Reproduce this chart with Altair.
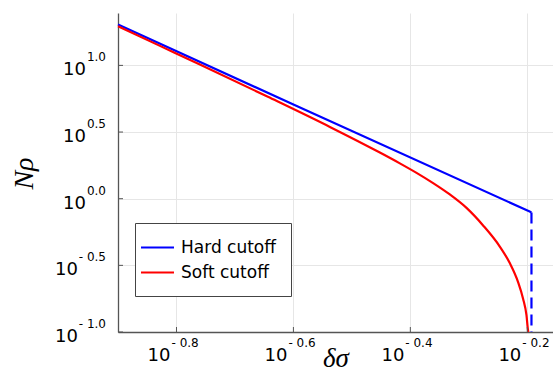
import altair as alt
import pandas as pd

# ---- data (delta sigma, N rho) ----
hard_ds = [0.12589, 0.25119, 0.64147]
hard_n = [20.23, 5.092, 0.7893]
hard_drop_ds = [0.64147, 0.64147]
hard_drop_n = [0.7893, 0.1]
soft_ds = [0.12589, 0.1479, 0.1738, 0.2272, 0.2900, 0.35307, 0.38199, 0.40794,
           0.43549, 0.46508, 0.49667, 0.53020, 0.56623, 0.58896, 0.60851,
           0.62061, 0.62897, 0.63295, 0.63370]
soft_n = [19.66, 14.13, 10.157, 5.811, 3.4538, 2.2187, 1.8408, 1.5620,
          1.3084, 1.0753, 0.85296, 0.63030, 0.43767, 0.32877, 0.23693,
          0.17783, 0.13370, 0.10263, 0.1]

series_names = ["Hard cutoff", "Soft cutoff"]
series_colors = ["#0000ff", "#ff0000"]

x_ticks = [0.1585, 0.2512, 0.3981, 0.6310]
x_exp = ["- 0.8", "- 0.6", "- 0.4", "- 0.2"]
y_pos_ticks = [1.0, 3.1623, 10.0]
y_pos_exp = ["0.0", "0.5", "1.0"]
y_neg_ticks = [0.1, 0.31623]
y_neg_exp = ["- 1.0", "- 0.5"]

W, H = 435, 319

lines_df = pd.DataFrame({
    "ds": hard_ds + soft_ds,
    "n": hard_n + soft_n,
    "series": [series_names[0]] * len(hard_ds) + [series_names[1]] * len(soft_ds),
})
drop_df = pd.DataFrame({"ds": hard_drop_ds, "n": hard_drop_n})
xt_df = pd.DataFrame({"ds": x_ticks, "t": x_exp})
ytp_df = pd.DataFrame({"n": y_pos_ticks, "t": y_pos_exp})
ytn_df = pd.DataFrame({"n": y_neg_ticks, "t": y_neg_exp})
yt_all = pd.DataFrame({"n": y_neg_ticks + y_pos_ticks})

xs = alt.Scale(type="log", domain=[10 ** -0.9, 10 ** -0.156], nice=False)
ys = alt.Scale(type="log", domain=[0.1, 10 ** 1.393], nice=False)

x_axis = alt.Axis(values=x_ticks, labels=False, ticks=False, grid=True,
                  gridColor="#e6e6e6", gridWidth=1, domainColor="#555555",
                  domainWidth=1.3, title="δσ", titleFont="Liberation Serif",
                  titleFontStyle="italic", titleFontWeight="normal",
                  titleFontSize=27, titleColor="black", titleX=W / 2,
                  titleY=34, titleAlign="center", titleBaseline="alphabetic")
y_axis = alt.Axis(values=y_neg_ticks + y_pos_ticks, labels=False, ticks=False,
                  grid=True, gridColor="#e6e6e6", gridWidth=1,
                  domainColor="#555555", domainWidth=1.3, title="Nρ",
                  titleFont="Liberation Serif", titleFontStyle="italic",
                  titleFontWeight="normal", titleFontSize=28,
                  titleColor="black", titleAngle=-90, titleX=-86, titleY=160,
                  titleAlign="center", titleBaseline="alphabetic")


def X(field="ds"):
    return alt.X(f"{field}:Q", scale=xs, axis=x_axis)


def Y(field="n"):
    return alt.Y(f"{field}:Q", scale=ys, axis=y_axis)


lines = alt.Chart(lines_df).mark_line(strokeWidth=2.2, interpolate="monotone").encode(
    x=X(), y=Y(),
    color=alt.Color("series:N",
                    scale=alt.Scale(domain=series_names, range=series_colors),
                    legend=alt.Legend(title=None, orient="none", legendX=17,
                                      legendY=210, padding=15,
                                      fillColor="white", strokeColor="#444444",
                                      symbolType="M-2,0H2", symbolSize=272,
                                      symbolStrokeWidth=2.2, symbolOffset=-2,
                                      labelOffset=14, labelFont="DejaVu Sans",
                                      labelFontSize=17, labelColor="black",
                                      rowPadding=7, cornerRadius=0)),
)

drop = alt.Chart(drop_df).mark_line(strokeWidth=2.2, strokeDash=[11, 6],
                                    color=series_colors[0]).encode(x=X(), y=Y())

xtick_marks = alt.Chart(xt_df).mark_rule(color="#555555", strokeWidth=1).encode(
    x=X(), y=alt.value(H), y2=alt.value(H - 5))
ytick_marks = alt.Chart(yt_all).mark_rule(color="#555555", strokeWidth=1).encode(
    y=Y(), x=alt.value(0), x2=alt.value(5))

lab_font = "DejaVu Sans"
x_base = alt.Chart(xt_df).mark_text(text="10", align="right", baseline="alphabetic",
                                    dx=-6, font=lab_font, fontSize=18,
                                    color="black").encode(x=X(), y=alt.value(H + 29))
x_sup = alt.Chart(xt_df).mark_text(align="left", baseline="alphabetic", dx=-5,
                                   font=lab_font, fontSize=12,
                                   color="black").encode(x=X(), y=alt.value(H + 15),
                                                         text="t:N")
yp_base = alt.Chart(ytp_df).mark_text(text="10", align="right", baseline="alphabetic",
                                      dy=10, font=lab_font, fontSize=18,
                                      color="black").encode(y=Y(), x=alt.value(-32))
yn_base = alt.Chart(ytn_df).mark_text(text="10", align="right", baseline="alphabetic",
                                      dy=10, font=lab_font, fontSize=18,
                                      color="black").encode(y=Y(), x=alt.value(-40))
yp_sup = alt.Chart(ytp_df).mark_text(align="right", baseline="alphabetic", dy=-4,
                                     font=lab_font, fontSize=12,
                                     color="black").encode(y=Y(), x=alt.value(-12),
                                                           text="t:N")
yn_sup = alt.Chart(ytn_df).mark_text(align="right", baseline="alphabetic", dy=-4,
                                     font=lab_font, fontSize=12,
                                     color="black").encode(y=Y(), x=alt.value(-12),
                                                           text="t:N")

chart = alt.layer(
    lines, drop, xtick_marks, ytick_marks,
    x_base, x_sup, yp_base, yn_base, yp_sup, yn_sup,
).properties(
    width=W, height=H,
    padding={"left": 118, "top": 13, "right": 0, "bottom": 43},
    autosize=alt.AutoSizeParams(type="none"),
    background="white",
).configure_view(stroke=None)

chart.save("out.html", embed_options={"renderer": "svg", "actions": False})
